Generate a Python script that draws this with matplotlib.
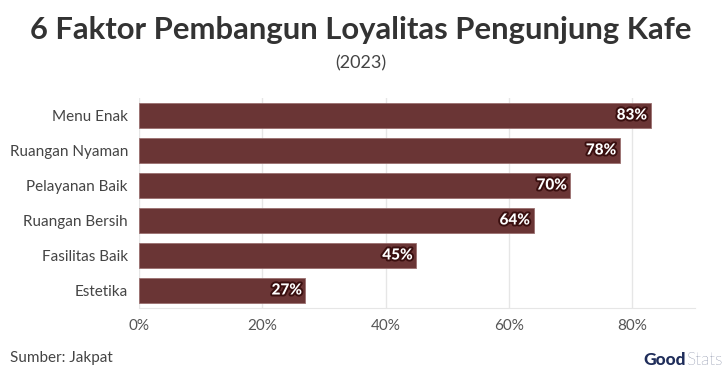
import matplotlib
matplotlib.use("Agg")
import matplotlib.pyplot as plt
import matplotlib.patheffects as pe

categories = ["Menu Enak", "Ruangan Nyaman", "Pelayanan Baik", "Ruangan Bersih", "Fasilitas Baik", "Estetika"]
values = [83, 78, 70, 64, 45, 27]
xticks = [0, 20, 40, 60, 80]
xticklabels = ["0%", "20%", "40%", "60%", "80%"]

FONT = "Lato"
plt.rcParams["font.family"] = [FONT, "DejaVu Sans"]

fig = plt.figure(figsize=(7.22, 3.82), dpi=100)
ax = fig.add_axes([139/722, (382-308)/382, (695-139)/722, 210/382])

bar_color = "#6a3535"
ypos = list(range(len(categories)))
ax.barh(ypos, values, height=0.74, color=bar_color, edgecolor="#9a7070", linewidth=0.6, zorder=3)
for y, v in zip(ypos, values):
    ax.text(v - 0.6, y, f"{v}%", ha="right", va="center", color="white", fontsize=11,
            fontweight="black", zorder=4,
            path_effects=[pe.withStroke(linewidth=2.8, foreground="#3a0f0f")])

ax.set_ylim(5.5, -0.5)
ax.set_xlim(0, 90.2)
ax.set_yticks(ypos)
ax.set_yticklabels(categories, fontsize=11, color="#444444")
ax.set_xticks(xticks)
ax.set_xticklabels(xticklabels, fontsize=11, color="#555555")
ax.tick_params(axis="both", length=0, pad=8)
ax.tick_params(axis="x", pad=8)
ax.grid(axis="x", color="#e6e6e6", linewidth=1, zorder=0)
for s in ["top", "right", "left"]:
    ax.spines[s].set_visible(False)
ax.spines["bottom"].set_color("#e6e6e6")

fig.text(0.5, 1 - 30/382, "6 Faktor Pembangun Loyalitas Pengunjung Kafe", ha="center", va="center",
         fontsize=22.3, fontweight="bold", color="#333333")
fig.text(0.5, 1 - 63/382, "(2023)", ha="center", va="center", fontsize=13, color="#444444")
fig.text(10/722, 1 - 358/382, "Sumber: Jakpat", ha="left", va="center", fontsize=11, color="#444444")
fig.text(686/722, 1 - 360/382, "Good", ha="right", va="center", fontsize=12.5, fontweight="black", color="#1f2d5a")
fig.text(686/722, 1 - 360/382, "Stats", ha="left", va="center", fontsize=12.5, fontweight="light", color="#1f2d5a")

fig.savefig("out.png", dpi=100, facecolor="white")
